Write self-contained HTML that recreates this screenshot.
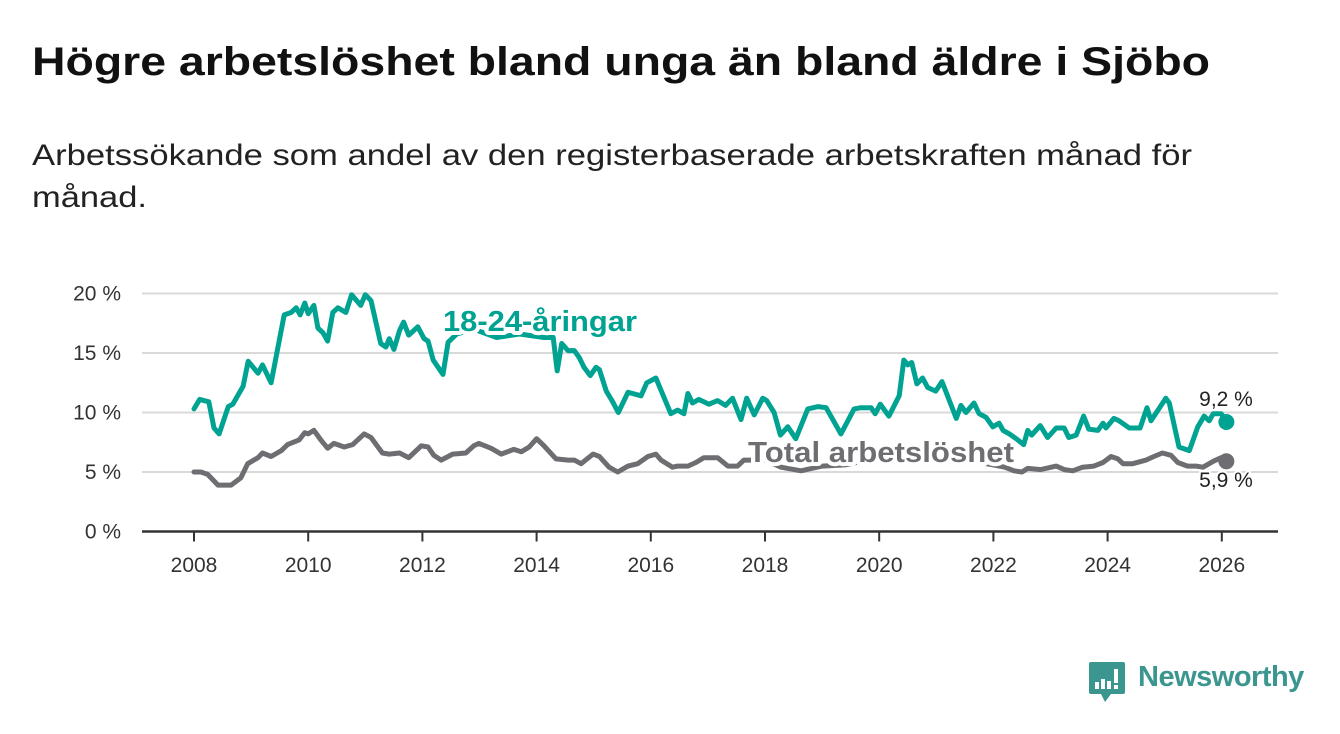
<!DOCTYPE html>
<html><head><meta charset="utf-8">
<style>
html,body{margin:0;padding:0;background:#fff;}
body{width:1340px;height:734px;position:relative;overflow:hidden;font-family:"Liberation Sans",sans-serif;}
svg{position:absolute;left:0;top:0;}
</style></head>
<body>
<svg id="chart" width="1340" height="734">
  <text x="32" y="75" font-size="40" font-weight="bold" fill="#111" font-family="Liberation Sans, sans-serif" textLength="1178" lengthAdjust="spacingAndGlyphs">Högre arbetslöshet bland unga än bland äldre i Sjöbo</text>
  <text x="32" y="165" font-size="30" fill="#222" font-family="Liberation Sans, sans-serif" textLength="1160" lengthAdjust="spacingAndGlyphs">Arbetssökande som andel av den registerbaserade arbetskraften månad för</text>
  <text x="32" y="207" font-size="30" fill="#222" font-family="Liberation Sans, sans-serif" textLength="115" lengthAdjust="spacingAndGlyphs">månad.</text>
</svg>
<script>
const youthDates = [2008.0,2008.1,2008.26,2008.35,2008.44,2008.6,2008.68,2008.86,2008.95,2009.12,2009.2,2009.35,2009.58,2009.7,2009.79,2009.86,2009.94,2010.0,2010.1,2010.17,2010.26,2010.34,2010.43,2010.52,2010.66,2010.76,2010.92,2011.0,2011.1,2011.27,2011.36,2011.42,2011.5,2011.6,2011.67,2011.76,2011.92,2012.03,2012.1,2012.19,2012.36,2012.45,2012.6,2012.9,2013.3,2013.7,2014.13,2014.29,2014.36,2014.44,2014.55,2014.66,2014.75,2014.83,2014.94,2015.04,2015.1,2015.22,2015.32,2015.43,2015.6,2015.83,2015.93,2016.09,2016.35,2016.47,2016.58,2016.65,2016.73,2016.84,2017.02,2017.17,2017.31,2017.43,2017.58,2017.68,2017.81,2017.96,2018.03,2018.16,2018.27,2018.4,2018.54,2018.75,2018.93,2019.07,2019.33,2019.56,2019.68,2019.86,2019.93,2020.02,2020.17,2020.35,2020.43,2020.5,2020.57,2020.66,2020.76,2020.85,2020.99,2021.1,2021.35,2021.43,2021.52,2021.66,2021.75,2021.87,2021.99,2022.1,2022.17,2022.28,2022.4,2022.53,2022.6,2022.67,2022.82,2022.95,2023.1,2023.24,2023.32,2023.45,2023.58,2023.67,2023.83,2023.92,2023.97,2024.11,2024.2,2024.38,2024.46,2024.57,2024.69,2024.76,2025.02,2025.08,2025.25,2025.43,2025.58,2025.69,2025.78,2025.85,2025.99,2026.08];
const youthValues = [10.3,11.1,10.9,8.7,8.2,10.5,10.7,12.2,14.3,13.3,14.0,12.5,18.2,18.4,18.8,18.2,19.2,18.3,19.0,17.1,16.7,16.0,18.4,18.8,18.4,19.9,19.0,19.9,19.4,15.8,15.5,16.2,15.3,16.9,17.6,16.5,17.2,16.2,16.0,14.4,13.2,15.9,16.6,17.0,16.3,16.6,16.3,16.3,13.5,15.8,15.2,15.2,14.6,13.8,13.1,13.8,13.6,11.8,11.0,10.0,11.7,11.4,12.5,12.9,9.9,10.2,9.9,11.6,10.8,11.1,10.7,11.0,10.6,11.2,9.4,11.2,9.8,11.2,11.0,10.0,8.1,8.8,7.8,10.3,10.5,10.4,8.2,10.3,10.4,10.4,9.9,10.7,9.7,11.4,14.4,14.0,14.2,12.4,12.9,12.1,11.8,12.6,9.5,10.6,10.0,10.8,9.9,9.6,8.8,9.1,8.5,8.2,7.8,7.3,8.5,8.1,8.9,7.9,8.7,8.7,7.9,8.1,9.7,8.6,8.5,9.1,8.7,9.5,9.3,8.7,8.7,8.7,10.4,9.3,11.2,10.8,7.1,6.8,8.8,9.7,9.3,9.9,9.9,9.2];
const totalDates = [2008.0,2008.12,2008.24,2008.42,2008.5,2008.65,2008.82,2008.94,2009.12,2009.2,2009.35,2009.53,2009.64,2009.84,2009.94,2010.0,2010.1,2010.22,2010.34,2010.45,2010.63,2010.78,2010.98,2011.1,2011.3,2011.42,2011.6,2011.76,2011.98,2012.1,2012.2,2012.33,2012.53,2012.76,2012.9,2012.99,2013.2,2013.38,2013.6,2013.73,2013.87,2014.0,2014.13,2014.34,2014.55,2014.66,2014.78,2014.99,2015.1,2015.27,2015.42,2015.6,2015.77,2015.95,2016.09,2016.18,2016.38,2016.47,2016.65,2016.79,2016.93,2017.17,2017.35,2017.52,2017.63,2018.0,2018.28,2018.63,2019.0,2019.4,2019.8,2020.3,2020.5,2021.0,2021.5,2022.0,2022.2,2022.36,2022.5,2022.6,2022.83,2023.1,2023.24,2023.39,2023.56,2023.76,2023.92,2024.06,2024.18,2024.27,2024.44,2024.67,2024.81,2024.96,2025.11,2025.23,2025.4,2025.55,2025.67,2025.85,2025.99,2026.08];
const totalValues = [5.0,5.0,4.8,3.9,3.9,3.9,4.5,5.7,6.2,6.6,6.3,6.8,7.3,7.7,8.3,8.2,8.5,7.7,7.0,7.4,7.1,7.3,8.2,7.9,6.6,6.5,6.6,6.2,7.2,7.1,6.4,6.0,6.5,6.6,7.2,7.4,7.0,6.5,6.9,6.7,7.1,7.8,7.2,6.1,6.0,6.0,5.7,6.5,6.3,5.4,5.0,5.5,5.7,6.3,6.5,6.0,5.4,5.5,5.5,5.8,6.2,6.2,5.5,5.5,6.0,6.0,5.4,5.1,5.5,5.6,6.0,6.5,7.0,6.8,6.0,5.6,5.4,5.1,5.0,5.3,5.2,5.5,5.2,5.1,5.4,5.5,5.8,6.3,6.1,5.7,5.7,6.0,6.3,6.6,6.4,5.8,5.5,5.5,5.4,5.9,6.2,5.9];
const yTicks = [0,5,10,15,20];
const yTickLabels = ["0 %","5 %","10 %","15 %","20 %"];
const xTicks = [2008,2010,2012,2014,2016,2018,2020,2022,2024,2026];
const youthEndLabel = "9,2 %";
const totalEndLabel = "5,9 %";

const NS = "http://www.w3.org/2000/svg";
const svg = document.getElementById('chart');
const X0 = 142, X1 = 1278;
const xScale = yr => 194 + (yr - 2008) * 57.1;
const yScale = v => 531.5 - v * 11.9;
function mk(tag, attrs, parent){
  const e = document.createElementNS(NS, tag);
  for (const k in attrs) e.setAttribute(k, attrs[k]);
  (parent || svg).appendChild(e);
  return e;
}
yTicks.forEach((t, i) => {
  if (t !== 0) {
    const g = mk('line', {x1:X0, x2:X1, y1:yScale(t), y2:yScale(t), stroke:'#d9d9d9', 'stroke-width':2});
    
    
  }
  const lb = mk('text', {x:121, y:yScale(t)+7, 'text-anchor':'end', 'font-size':21, fill:'#333', 'font-family':'Liberation Sans, sans-serif'});
  lb.textContent = yTickLabels[i];
  
  
});
const ax = mk('line', {x1:X0, x2:X1, y1:yScale(0), y2:yScale(0), stroke:'#333', 'stroke-width':2.5});


xTicks.forEach(t => {
  const tk = mk('line', {x1:xScale(t), x2:xScale(t), y1:yScale(0), y2:yScale(0)+10, stroke:'#333', 'stroke-width':2});
  
  
  const lb = mk('text', {x:xScale(t), y:572, 'text-anchor':'middle', 'font-size':21, fill:'#333', 'font-family':'Liberation Sans, sans-serif'});
  lb.textContent = t;
  
  
});
function line(dates, vals, color, name){
  const d = dates.map((t, i) => (i ? 'L' : 'M') + xScale(t).toFixed(1) + ',' + yScale(vals[i]).toFixed(1)).join(' ');
  const p = mk('path', {d:d, fill:'none', stroke:color, 'stroke-width':5, 'stroke-linejoin':'round', 'stroke-linecap':'round'});
  
  
  const n = dates.length - 1;
  const c = mk('circle', {cx:xScale(dates[n]), cy:yScale(vals[n]), r:8, fill:color});
  
  
}
line(totalDates, totalValues, '#6e6d72', 'total-line');
line(youthDates, youthValues, '#00a391', 'youth-line');
function label(txt, x, y, color, w, name, size, bold, anchor){
  const attrs = {x:x, y:y, 'font-size':size, fill:color, 'font-family':'Liberation Sans, sans-serif', 'font-weight':bold?'bold':'normal', stroke:'#fff', 'stroke-width':bold?8:4, 'paint-order':'stroke', 'stroke-linejoin':'round', 'text-anchor':anchor||'start'};
  if (w) { attrs.textLength = w; attrs.lengthAdjust = 'spacingAndGlyphs'; }
  const t = mk('text', attrs);
  t.textContent = txt;
  
  
}
label('18-24-åringar', 443, 331, '#00a391', 194, 'youth-series-label', 29, true);
label('Total arbetslöshet', 748, 462, '#6e6d72', 266, 'total-series-label', 29, true);
label(youthEndLabel, 1226, 406, '#222', 0, 'youth-end-value', 21, false, 'middle');
label(totalEndLabel, 1226, 487, '#222', 0, 'total-end-value', 21, false, 'middle');
</script>
<div style="position:absolute;left:1089px;top:662px;">
  <svg width="40" height="44" viewBox="0 0 40 44" style="position:absolute;left:0;top:0;">
    <path d="M2 0 H34 a2 2 0 0 1 2 2 V30 a2 2 0 0 1 -2 2 H22 L16 40 L12 32 H2 a2 2 0 0 1 -2 -2 V2 a2 2 0 0 1 2 -2 Z" fill="#3a968f"/>
    <rect x="6" y="20" width="4" height="7" fill="#fff"/>
    <rect x="12" y="17" width="4" height="10" fill="#fff"/>
    <rect x="18" y="19" width="4" height="8" fill="#fff"/>
    <rect x="25" y="7" width="4" height="14" fill="#fff"/>
    <rect x="25" y="23" width="4" height="4" fill="#fff"/>
  </svg>
  <span style="position:absolute;left:49px;top:-1px;font-size:29px;color:#3a968f;font-weight:bold;white-space:nowrap;letter-spacing:-0.5px;">Newsworthy</span>
</div>
</body></html>
